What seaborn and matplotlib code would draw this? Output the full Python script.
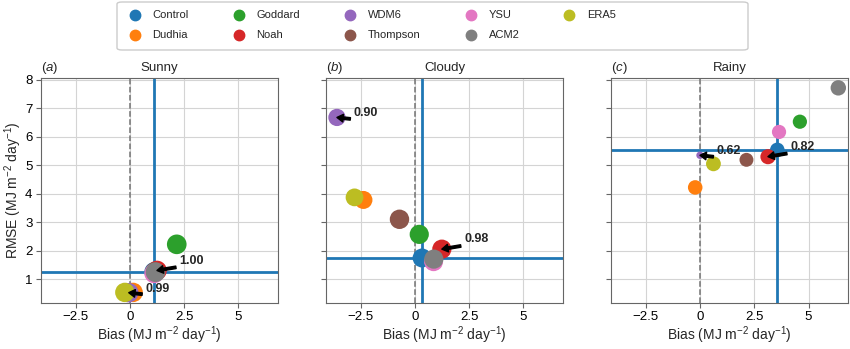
import pandas as pd
import seaborn as sns
import matplotlib.pyplot as plt
from matplotlib.lines import Line2D
from matplotlib.patches import FancyBboxPatch
from matplotlib.ticker import FuncFormatter

# models (plot order = tab10 colour order)
models = ['Control', 'Dudhia', 'Goddard', 'Noah', 'WDM6', 'Thompson', 'YSU', 'ACM2', 'ERA5']
conditions = ['Sunny', 'Cloudy', 'Rainy']
panel_tags = ['a', 'b', 'c']

sunny_bias = [1.12, 0.15, 2.16, 1.25, -0.05, 1.15, 1.12, 1.18, -0.23]
sunny_rmse = [1.25, 0.53, 2.22, 1.30, 0.52, 1.25, 1.20, 1.24, 0.53]
sunny_corr = [1.00, 0.99, 1.00, 1.00, 0.99, 1.00, 1.00, 1.00, 0.99]

cloudy_bias = [0.33, -2.37, 0.20, 1.24, -3.59, -0.71, 0.86, 0.87, -2.78]
cloudy_rmse = [1.74, 3.78, 2.57, 2.05, 6.68, 3.10, 1.61, 1.70, 3.87]
cloudy_corr = [0.97, 0.93, 0.98, 0.98, 0.90, 0.99, 0.97, 0.98, 0.92]

rainy_bias = [3.56, -0.22, 4.60, 3.13, 0.00, 2.14, 3.64, 6.37, 0.62]
rainy_rmse = [5.54, 4.22, 6.53, 5.30, 5.35, 5.19, 6.17, 7.72, 5.05]
rainy_corr = [0.80, 0.80, 0.79, 0.82, 0.62, 0.78, 0.79, 0.83, 0.81]

annotated = ['WDM6', 'Noah']

sns.set_style('whitegrid', {'axes.edgecolor': '0.4', 'grid.color': '0.83',
                            'xtick.bottom': True, 'ytick.left': True})
plt.rcParams['font.family'] = ['Liberation Sans', 'DejaVu Sans']
plt.rcParams.update({'mathtext.fontset': 'custom',
                     'mathtext.rm': 'Liberation Sans',
                     'mathtext.it': 'Liberation Sans:italic',
                     'mathtext.bf': 'Liberation Sans:bold',
                     'xtick.color': '0.4', 'ytick.color': '0.4',
                     'xtick.labelcolor': 'black', 'ytick.labelcolor': 'black',
                     'xtick.major.size': 3.5, 'ytick.major.size': 3.5})

palette = dict(zip(models, sns.color_palette('tab10', len(models))))

fig, axes = plt.subplots(1, 3, figsize=(8.5, 3.49), dpi=100, sharey=True)
fig.subplots_adjust(left=0.048, right=0.998, bottom=0.132, top=0.776, wspace=0.201)

panels = [(sunny_bias, sunny_rmse, sunny_corr),
          (cloudy_bias, cloudy_rmse, cloudy_corr),
          (rainy_bias, rainy_rmse, rainy_corr)]
offsets = {'WDM6': (12, 3), 'Noah': (16, 7)}
minus_fmt = FuncFormatter(lambda v, p: f'{v:g}'.replace('-', '\u2212'))

for ax, tag, cond, (bias, rmse, corr) in zip(axes, panel_tags, conditions, panels):
    df = pd.DataFrame({'model': models, 'bias': bias, 'rmse': rmse, 'corr': corr})
    ctrl = df[df.model == 'Control'].iloc[0]

    ax.axvline(0, color='0.45', ls='--', lw=1.1, zorder=1)
    ax.axvline(ctrl['bias'], color=palette['Control'], lw=2, zorder=1.5)
    ax.axhline(ctrl['rmse'], color=palette['Control'], lw=2, zorder=1.5)

    sns.scatterplot(data=df, x='bias', y='rmse', hue='model', hue_order=models,
                    palette=palette, size='corr', sizes=(28, 200), size_norm=(0.62, 1.0),
                    linewidth=0, legend=False, ax=ax, zorder=3)

    for name in annotated:
        row = df[df.model == name].iloc[0]
        ax.annotate(f"{row['corr']:.2f}", xy=(row['bias'], row['rmse']),
                    xytext=offsets[name], textcoords='offset points',
                    ha='left', va='center', fontsize=9, fontweight='bold',
                    arrowprops=dict(facecolor='black', edgecolor='black', width=1.8,
                                    headwidth=5.5, headlength=4.5, shrink=0),
                    zorder=4)

    ax.set_title(cond, fontsize=9.5, pad=5)
    ax.set_title(f'(${tag}$)', loc='left', fontsize=9.5, pad=5)
    ax.set_xlim(-4.1, 6.83)
    ax.set_ylim(0.16, 8.06)
    ax.set_xticks([-2.5, 0, 2.5, 5])
    ax.xaxis.set_major_formatter(minus_fmt)
    ax.tick_params(labelsize=9.5, pad=2.5)
    ax.set_xlabel('Bias (MJ m$^{-2}$ day$^{-1}$)', fontsize=10, labelpad=1)
    ax.set_ylabel('')

axes[0].set_yticks(range(1, 9))
axes[0].set_ylabel('RMSE (MJ m$^{-2}$ day$^{-1}$)', fontsize=10, labelpad=1)

# legend across the top, with a separate rounded frame
handles = [Line2D([], [], marker='o', ls='', color=palette[m], markersize=7.5, label=m)
           for m in models]
fig.legend(handles=handles, loc='upper left', bbox_to_anchor=(0.152, 0.97), ncol=5,
           frameon=False, fontsize=8, handlelength=1.0, handletextpad=1.1,
           columnspacing=4.0, labelspacing=0.9, borderpad=0, borderaxespad=0)
frame = FancyBboxPatch((117 / 850, 1 - 50 / 349), 631 / 850, 48 / 349,
                       boxstyle='round,pad=0,rounding_size=0.006',
                       transform=fig.transFigure, facecolor='white',
                       edgecolor='0.8', lw=1, zorder=-1)
fig.patches.append(frame)

fig.savefig('out.png', dpi=100)
